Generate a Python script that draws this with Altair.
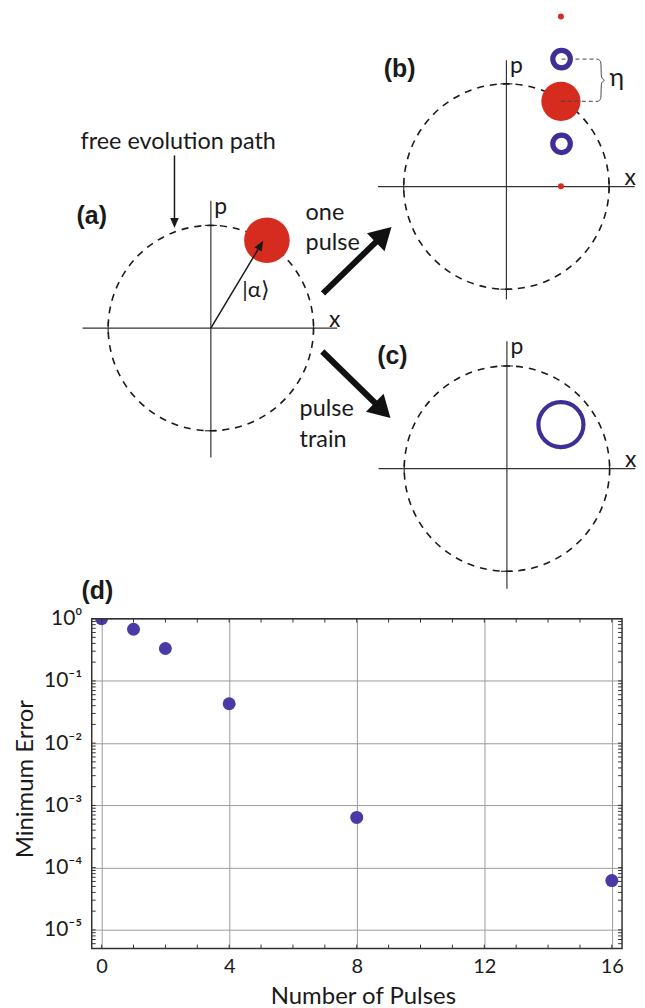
import json
import math
import altair as alt
import pandas as pd

# ---------------- panel (d): minimum error vs. number of pulses ----------------
pulses = [0, 1, 2, 4, 8, 16]
min_error = [1.0, 0.675, 0.331, 0.043, 6.4e-4, 6.2e-5]
x_tick_values = [0, 4, 8, 12, 16]
x_minor_values = list(range(0, 17))
y_tick_values = [1.0, 1e-1, 1e-2, 1e-3, 1e-4, 1e-5]
y_tick_labels = ["10⁰", "10⁻¹", "10⁻²", "10⁻³", "10⁻⁴", "10⁻⁵"]
y_minor_mantissas = [1, 2, 3, 4, 5, 6, 7, 8, 9]
y_minor_decades = [1e-1, 1e-2, 1e-3, 1e-4, 1e-5, 1e-6]
x_domain = [-0.31, 16.32]
y_domain = [5e-6, 1.0]

# ---------------- phase-space sketches (a)-(c) ----------------
panel_labels = ["(a)", "(b)", "(c)"]
origin_x = [211.5, 508.0, 508.5]          # phase-space origin of each sketch
origin_y = [326.5, 184.5, 467.5]
unit_px = 103.0                            # radius of the free-evolution circle
x_axis_span = [(-1.25, 1.23), (-1.25, 1.25), (-1.25, 1.25)]
p_axis_span = [(-1.26, 1.24), (-1.10, 1.23), (-1.17, 1.24)]

coherent_panel = [0, 1]                    # red coherent state |alpha>
coherent_x = [0.546, 0.531]
coherent_p = [0.856, 0.830]
coherent_radius = [0.222, 0.191]

sideband_panel = [1, 1]                    # first-order sidebands (+/- eta)
sideband_x = [0.537, 0.537]
sideband_p = [1.241, 0.416]

second_panel = [1, 1]                      # second-order sidebands (+/- 2 eta)
second_x = [0.531, 0.531]
second_p = [1.655, 0.002]

train_panel = [2]                          # result of a pulse train
train_x = [0.526]
train_p = [0.429]

regular_texts = ["free evolution path", "one", "pulse", "pulse", "train"]
regular_text_x = [80.7, 306.5, 306.5, 300.5, 300.5]
regular_text_y = [146.7, 218.3, 248.3, 415.0, 445.7]

bold_texts = ["(a)", "(b)", "(c)", "(d)"]
bold_text_x = [76.7, 385.0, 378.3, 81.7]
bold_text_y = [214.5, 67.0, 355.0, 590.0]

thick_arrow_start = [(324.0, 291.7), (323.3, 350.0)]
thick_arrow_tip = [(392.7, 225.0), (391.7, 416.7)]
thin_arrow_start = [(175.0, 153.3), (211.5, 326.5)]
thin_arrow_tip = [(175.0, 226.0), (264.0, 239.0)]

brace_x = [600.0, 602.2, 603.0, 603.0, 604.0, 607.3, 604.0, 603.0, 603.0, 602.2, 600.0]
brace_y = [56.7, 58.2, 60.5, 74.0, 76.4, 77.8, 79.3, 81.7, 95.3, 97.6, 99.0]

RED = "#d62c1f"
BLUE = "#3d2e98"
PURPLE = "#4a3aa6"
INK = "#1a1a1a"
FONT = "Lato"
BOLD_FONT = "Liberation Sans"

# ---------------- geometry helpers ----------------
W = 532
H_TOP = 610
X0, Y0 = 92.0, 8.0


def page_xy(panel, x, p):
    return origin_x[panel] + unit_px * x, origin_y[panel] - unit_px * p


xs = alt.Scale(domain=[X0, X0 + W], nice=False, zero=False)
ys = alt.Scale(domain=[Y0, Y0 + H_TOP], nice=False, zero=False, reverse=True)
X = alt.X("x:Q", scale=xs, axis=None)
Y = alt.Y("y:Q", scale=ys, axis=None)

circ_df = pd.DataFrame({"x": origin_x, "y": origin_y})

axis_rows, tick_rows = [], []
half = 6.0 / unit_px
for i in range(3):
    a0, a1 = x_axis_span[i]
    b0, b1 = p_axis_span[i]
    for (u0, v0, u1, v1) in [(a0, 0, a1, 0), (0, b0, 0, b1)]:
        xa, ya = page_xy(i, u0, v0)
        xb_, yb_ = page_xy(i, u1, v1)
        axis_rows.append(dict(x=xa, y=ya, x2=xb_, y2=yb_))
    for s in (-1, 1):
        xa, ya = page_xy(i, s, -half)
        xb_, yb_ = page_xy(i, s, half)
        tick_rows.append(dict(x=xa, y=ya, x2=xb_, y2=yb_))
        xa, ya = page_xy(i, -half, s)
        xb_, yb_ = page_xy(i, half, s)
        tick_rows.append(dict(x=xa, y=ya, x2=xb_, y2=yb_))
axes_df = pd.DataFrame(axis_rows)
cross_df = pd.DataFrame(tick_rows)

coh_rows = []
for pn, cx, cp, r in zip(coherent_panel, coherent_x, coherent_p, coherent_radius):
    x, y = page_xy(pn, cx, cp)
    coh_rows.append(dict(x=x, y=y, s=(2 * r * unit_px) ** 2))
coh_df = pd.DataFrame(coh_rows)

sb_df = pd.DataFrame([dict(zip(("x", "y"), page_xy(pn, a, b)))
                      for pn, a, b in zip(sideband_panel, sideband_x, sideband_p)])
so_df = pd.DataFrame([dict(zip(("x", "y"), page_xy(pn, a, b)))
                      for pn, a, b in zip(second_panel, second_x, second_p)])
tr_df = pd.DataFrame([dict(zip(("x", "y"), page_xy(pn, a, b)))
                      for pn, a, b in zip(train_panel, train_x, train_p)])

# eta bracket: dashed leaders from the upper sideband and from |alpha>
up = page_xy(sideband_panel[0], sideband_x[0], sideband_p[0])
mid = page_xy(coherent_panel[1], coherent_x[1], coherent_p[1])
lead_df = pd.DataFrame([dict(x=up[0], y=up[1], x2=brace_x[0], y2=brace_y[0]),
                        dict(x=mid[0], y=mid[1], x2=brace_x[-1], y2=brace_y[-1])])
brace_df = pd.DataFrame({"x": brace_x, "y": brace_y, "i": list(range(len(brace_x)))})


def arrow_frames(starts, tips, inset):
    shafts, heads = [], []
    for (sx, sy), (tx, ty) in zip(starts, tips):
        dx, dy = tx - sx, ty - sy
        L = math.hypot(dx, dy)
        ux, uy = dx / L, dy / L
        shafts.append(dict(x=sx, y=sy, x2=tx - inset * ux, y2=ty - inset * uy))
        heads.append(dict(x=tx, y=ty, a=math.degrees(math.atan2(dx, -dy)) % 360))
    return pd.DataFrame(shafts), pd.DataFrame(heads)


thick_shaft, thick_head = arrow_frames(thick_arrow_start, thick_arrow_tip, 14)
thin_shaft, thin_head = arrow_frames(thin_arrow_start, thin_arrow_tip, 5)

HEAD_THICK = "M0,0L1.15,2L-1.15,2Z"
HEAD_THIN = "M0,0L0.85,2L-0.85,2Z"

reg_df = pd.DataFrame({"t": regular_texts, "x": regular_text_x, "y": regular_text_y})
bold_df = pd.DataFrame({"t": bold_texts, "x": bold_text_x, "y": bold_text_y})

p_lab = pd.DataFrame({"t": ["p"] * 3,
                      "x": [origin_x[i] + 3.5 for i in range(3)],
                      "y": [origin_y[i] - unit_px * p_axis_span[i][1] + 13 for i in range(3)]})
x_lab = pd.DataFrame({"t": ["x"] * 3,
                      "x": [origin_x[i] + 118.5 for i in range(3)],
                      "y": [origin_y[i] - 1.5 for i in range(3)]})
ket_df = pd.DataFrame({"t": ["|α⟩"], "x": [256.7], "y": [288.0]})
eta_df = pd.DataFrame({"t": ["η"], "x": [611.5], "y": [84.0]})
anchor_df = pd.DataFrame({"x": [8.5], "y": [8.5], "x2": [9.5], "y2": [8.5]})

X2 = alt.X2("x2:Q")
Y2 = alt.Y2("y2:Q")

layers = [
    alt.Chart(anchor_df).mark_rule(strokeOpacity=0, strokeWidth=1).encode(X, Y, X2, Y2),
    alt.Chart(axes_df).mark_rule(color="#333333", strokeWidth=1.2).encode(X, Y, X2, Y2),
    alt.Chart(cross_df).mark_rule(color="#333333", strokeWidth=1.2).encode(X, Y, X2, Y2),
    alt.Chart(circ_df).mark_point(shape="circle", filled=False, size=(2 * unit_px) ** 2,
                                  color=INK, strokeWidth=1.6, strokeDash=[7, 6],
                                  opacity=1).encode(X, Y),
    alt.Chart(coh_df).mark_circle(color=RED, opacity=1).encode(
        X, Y, size=alt.Size("s:Q", scale=None)),
    alt.Chart(sb_df).mark_point(shape="circle", filled=False, size=17.6 ** 2,
                                color=BLUE, strokeWidth=5.2, opacity=1).encode(X, Y),
    alt.Chart(tr_df).mark_point(shape="circle", filled=False, size=45.2 ** 2,
                                color=BLUE, strokeWidth=4.2, opacity=1).encode(X, Y),
    alt.Chart(so_df).mark_circle(size=36, color=RED, opacity=1).encode(X, Y),
    alt.Chart(lead_df).mark_rule(color="#444444", strokeWidth=1,
                                 strokeDash=[4, 3]).encode(X, Y, X2, Y2),
    alt.Chart(brace_df).mark_line(color="#444444", strokeWidth=1,
                                  interpolate="basis").encode(X, Y, order="i:Q"),
    alt.Chart(thin_shaft).mark_rule(color=INK, strokeWidth=1.5).encode(X, Y, X2, Y2),
    alt.Chart(thin_head).mark_point(shape=HEAD_THIN, filled=True, size=100, color=INK,
                                    opacity=1).encode(X, Y, angle=alt.Angle("a:Q", scale=None)),
    alt.Chart(thick_shaft).mark_rule(color="#111111", strokeWidth=6).encode(X, Y, X2, Y2),
    alt.Chart(thick_head).mark_point(shape=HEAD_THICK, filled=True, size=484, color="#111111",
                                     opacity=1).encode(X, Y, angle=alt.Angle("a:Q", scale=None)),
    alt.Chart(reg_df).mark_text(align="left", baseline="alphabetic", font=FONT,
                                fontSize=23.5, color=INK).encode(X, Y, text="t:N"),
    alt.Chart(p_lab).mark_text(align="left", baseline="alphabetic", font=FONT,
                               fontSize=23, color=INK).encode(X, Y, text="t:N"),
    alt.Chart(x_lab).mark_text(align="left", baseline="alphabetic", font=FONT,
                               fontSize=23, color=INK).encode(X, Y, text="t:N"),
    alt.Chart(ket_df).mark_text(align="center", baseline="middle", font=FONT,
                                fontSize=22, color=INK).encode(X, Y, text="t:N"),
    alt.Chart(eta_df).mark_text(align="left", baseline="alphabetic", font=FONT,
                                fontSize=25, color=INK).encode(X, Y, text="t:N"),
    alt.Chart(bold_df).mark_text(align="left", baseline="middle", font=BOLD_FONT,
                                 fontWeight="bold", fontSize=25, color=INK).encode(X, Y, text="t:N"),
]
top = alt.layer(*layers).properties(width=W, height=H_TOP)

# ---------------- bottom plot ----------------
H_BOT = 331
d_df = pd.DataFrame({"n": pulses, "err": min_error})
xb = alt.Scale(domain=x_domain, nice=False, zero=False)
yb = alt.Scale(type="log", domain=y_domain, nice=False)
label_expr = json.dumps(y_tick_labels, ensure_ascii=False) + "[round(-log(datum.value)/LN10)]"

AXIS_X = alt.Axis(values=x_tick_values, grid=True, ticks=False, domain=False,
                  labelFontSize=20, labelPadding=8, titleFontSize=24,
                  titleX=272, titleY=55, titleBaseline="alphabetic")
AXIS_Y = alt.Axis(values=y_tick_values, labelExpr=label_expr, grid=True, ticks=False,
                  domain=False, labelFontSize=21, labelPadding=10, titleFontSize=24,
                  titleAngle=270, titleX=-66, titleY=H_BOT / 2 - 5,
                  titleAlign="center", titleBaseline="middle")
XB = alt.X("n:Q", scale=xb, title="Number of Pulses", axis=AXIS_X)
YB = alt.Y("err:Q", scale=yb, title="Minimum Error", axis=AXIS_Y)

points = alt.Chart(d_df).mark_circle(size=169, color=PURPLE, opacity=1, clip=True).encode(XB, YB)

y_minor_values = [m * d for d in y_minor_decades for m in y_minor_mantissas
                  if 5.01e-6 <= m * d <= 1.0]
xt_df = pd.DataFrame({"n": x_minor_values})
yt_df = pd.DataFrame({"err": y_minor_values})
tick_col = "#333333"
xt_bottom = alt.Chart(xt_df).mark_rule(color=tick_col, strokeWidth=1).encode(
    XB, y=alt.value(H_BOT), y2=alt.value(H_BOT - 4))
xt_top = alt.Chart(xt_df).mark_rule(color=tick_col, strokeWidth=1).encode(
    XB, y=alt.value(0), y2=alt.value(4))
yt_left = alt.Chart(yt_df).mark_rule(color=tick_col, strokeWidth=1).encode(
    YB, x=alt.value(0), x2=alt.value(4))
yt_right = alt.Chart(yt_df).mark_rule(color=tick_col, strokeWidth=1).encode(
    YB, x=alt.value(W), x2=alt.value(W - 4))
frame = alt.Chart(pd.DataFrame({"k": [0]})).mark_rect(
    fill="transparent", stroke="#333333", strokeWidth=1.5).encode(
    x=alt.value(0), x2=alt.value(W), y=alt.value(0), y2=alt.value(H_BOT))

bottom = alt.layer(points, xt_bottom, xt_top, yt_left, yt_right, frame).properties(
    width=W, height=H_BOT)

chart = alt.vconcat(top, bottom, spacing=0, bounds="flush").properties(
    padding=0
).configure_view(stroke="transparent").configure_axis(
    labelFont=FONT, titleFont=FONT, labelColor=INK, titleColor=INK,
    titleFontWeight="normal", gridColor="#9c9c9c", gridWidth=1
)

chart.save("out.html", embed_options={"renderer": "svg", "actions": False})
